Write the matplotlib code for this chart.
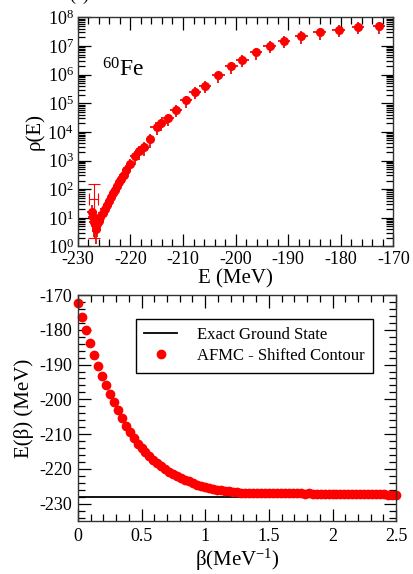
import numpy as np
import matplotlib
matplotlib.use("Agg")
import matplotlib.pyplot as plt
from matplotlib.ticker import MultipleLocator, LogLocator, NullFormatter

plt.rcParams['font.family'] = ['Liberation Serif', 'DejaVu Serif']
plt.rcParams['mathtext.fontset'] = 'custom'
plt.rcParams['mathtext.rm'] = 'Liberation Serif'
plt.rcParams['mathtext.it'] = 'Liberation Serif:italic'
plt.rcParams['axes.unicode_minus'] = False

# level density of 60Fe
energy = [-172.7, -176.7, -180.4, -184.0, -187.5, -190.8, -193.5, -196.1, -198.7,
          -200.8, -203.3, -205.8, -207.7, -209.4, -211.3, -212.9, -214.1, -215.0,
          -216.3, -217.5, -218.3, -219.2, -220.1, -220.8, -221.3, -221.7, -222.1,
          -222.5, -222.9, -223.3, -223.7, -224.1, -224.5, -224.9, -225.3, -225.7,
          -226.0, -226.3, -226.6, -226.9, -227.1, -227.3]
rho = [4.8e7, 4.6e7, 3.6e7, 3.0e7, 2.2e7, 1.5e7, 1.0e7, 6.0e6, 3.2e6,
       1.95e6, 9.3e5, 4.0e5, 2.5e5, 1.26e5, 5.8e4, 3.0e4, 2.0e4, 1.45e4,
       5.6e3, 2.9e3, 2.1e3, 1.4e3, 780, 460, 320, 235, 175,
       130, 95, 71, 52, 38, 28, 21, 15, 11,
       7.9, 5.9, 4.2, 7.1, 11, 16]
energy_err = [1.2] * 18 + [0.8] * 21 + [1.0, 1.0, 1.0]
rho_rel_err = [0.45] * 18 + [0.5] * 18 + [0.6, 0.65, 0.7, 0.7, 0.7, 0.7]

# outlier with a large error bar near the ground state
outlier_E = [-227.0]
outlier_rho = [45.0]
outlier_lo = [43.0]
outlier_hi = [110.0]

# E(beta) from the shifted-contour AFMC
beta = [0.0, 0.031, 0.0625, 0.094, 0.125, 0.156, 0.1875, 0.219, 0.25, 0.281,
        0.3125, 0.344, 0.375, 0.406, 0.4375, 0.469, 0.5, 0.531, 0.5625, 0.594,
        0.625, 0.656, 0.6875, 0.719, 0.75, 0.781, 0.8125, 0.844, 0.875, 0.906,
        0.9375, 0.969, 1.0, 1.031, 1.0625, 1.094, 1.125, 1.156, 1.1875, 1.219,
        1.25, 1.281, 1.3125, 1.344, 1.375, 1.406, 1.4375, 1.469, 1.5, 1.531,
        1.5625, 1.594, 1.625, 1.656, 1.6875, 1.719, 1.75, 1.781, 1.8125, 1.844,
        1.875, 1.906, 1.9375, 1.969, 2.0, 2.031, 2.0625, 2.094, 2.125, 2.156,
        2.1875, 2.219, 2.25, 2.281, 2.3125, 2.344, 2.375, 2.406, 2.4375, 2.469, 2.5]
E_beta = [-172.4, -176.3, -180.1, -183.8, -187.3, -190.5, -193.4, -196.0, -198.6, -200.8,
          -203.0, -205.5, -207.6, -209.4, -211.1, -212.8, -214.1, -215.2, -216.3, -217.4,
          -218.4, -219.2, -220.0, -220.8, -221.5, -222.1, -222.7, -223.2, -223.6, -224.1,
          -224.5, -224.9, -225.2, -225.5, -225.8, -226.0, -226.2, -226.4, -226.5, -226.6,
          -226.7, -226.8, -226.8, -226.8, -226.9, -226.9, -226.9, -226.9, -226.9, -226.9,
          -227.0, -226.9, -227.0, -227.0, -227.0, -227.0, -227.0, -227.1, -227.0, -227.1,
          -227.1, -227.1, -227.1, -227.1, -227.1, -227.2, -227.1, -227.2, -227.2, -227.2,
          -227.2, -227.2, -227.3, -227.2, -227.3, -227.3, -227.3, -227.3, -227.4, -227.4, -227.4]
ground_state = -228.1

RED = '#ff0000'


def style_axes(ax):
    ax.tick_params(which='both', direction='in', top=True, right=True,
                   labelsize=13, width=0.9)
    ax.tick_params(which='major', length=9)
    ax.tick_params(which='minor', length=5)
    for s in ax.spines.values():
        s.set_linewidth(1.0)
        s.set_color('#333333')


fig = plt.figure(figsize=(4.14, 5.74), dpi=100)

# top panel: level density
ax1 = fig.add_axes([0.188, 0.5706, 0.762, 0.3994])
rho_arr = np.array(rho)
ax1.errorbar(energy, rho, xerr=energy_err, yerr=rho_arr * np.array(rho_rel_err),
             fmt='o', color=RED, ms=5.5, mec=RED, ecolor='#e01010', elinewidth=1.3,
             capsize=0)
ax1.errorbar(outlier_E, outlier_rho, xerr=[[0.8], [0.8]],
             yerr=[outlier_lo, outlier_hi], fmt='none', ecolor=RED,
             elinewidth=0.8, capsize=4, capthick=0.8)
ax1.set_yscale('log')
ax1.set_xlim(-230, -170)
ax1.set_ylim(1, 1e8)
ax1.xaxis.set_major_locator(MultipleLocator(10))
ax1.xaxis.set_minor_locator(MultipleLocator(2))
ax1.yaxis.set_major_locator(LogLocator(base=10, numticks=20))
ax1.yaxis.set_minor_locator(LogLocator(base=10, subs=np.arange(2, 10), numticks=20))
ax1.yaxis.set_minor_formatter(NullFormatter())
style_axes(ax1)
ax1.tick_params(axis='x', pad=3)
ax1.tick_params(axis='y', pad=3)
ax1.set_xlabel('E (MeV)', fontsize=15, labelpad=1)
ax1.set_ylabel('ρ(E)', fontsize=15, labelpad=2)
ax1.text(0.076, 0.743, '$^{60}$Fe', transform=ax1.transAxes, fontsize=17,
         ha='left', va='baseline')

# bottom panel: E(beta)
ax2 = fig.add_axes([0.188, 0.0923, 0.769, 0.3937])
ax2.axhline(ground_state, color='black', lw=1.3, label='Exact Ground State')
ax2.plot(beta, E_beta, 'o', color=RED, ms=6, mec=RED, clip_on=False,
         label='AFMC - Shifted Contour')
ax2.set_xlim(0, 2.5)
ax2.set_ylim(-235, -170)
ax2.xaxis.set_major_locator(MultipleLocator(0.5))
ax2.xaxis.set_minor_locator(MultipleLocator(0.1))
ax2.yaxis.set_major_locator(MultipleLocator(10))
ax2.yaxis.set_minor_locator(MultipleLocator(2))
ax2.set_xticks([0, 0.5, 1, 1.5, 2, 2.5])
ax2.set_xticklabels(['0', '0.5', '1', '1.5', '2', '2.5'])
style_axes(ax2)
ax2.tick_params(axis='x', pad=5)
ax2.tick_params(axis='y', pad=4)
ax2.set_xlabel('β(MeV$^{-1}$)', fontsize=15, labelpad=1)
ax2.set_ylabel('E(β) (MeV)', fontsize=15, labelpad=4)
leg = ax2.legend(loc='upper right', bbox_to_anchor=(0.928, 0.894),
                 borderaxespad=0, fontsize=12, fancybox=False, framealpha=1,
                 edgecolor='black', handlelength=2.0, handletextpad=1.2,
                 borderpad=0.5, labelspacing=0.3)
leg.get_frame().set_linewidth(1.0)

# panel tag, sitting above the top edge
fig.text(0.215, 1.0, '(a)', fontsize=13, ha='right', va='baseline')

fig.savefig('out.png', dpi=100)
